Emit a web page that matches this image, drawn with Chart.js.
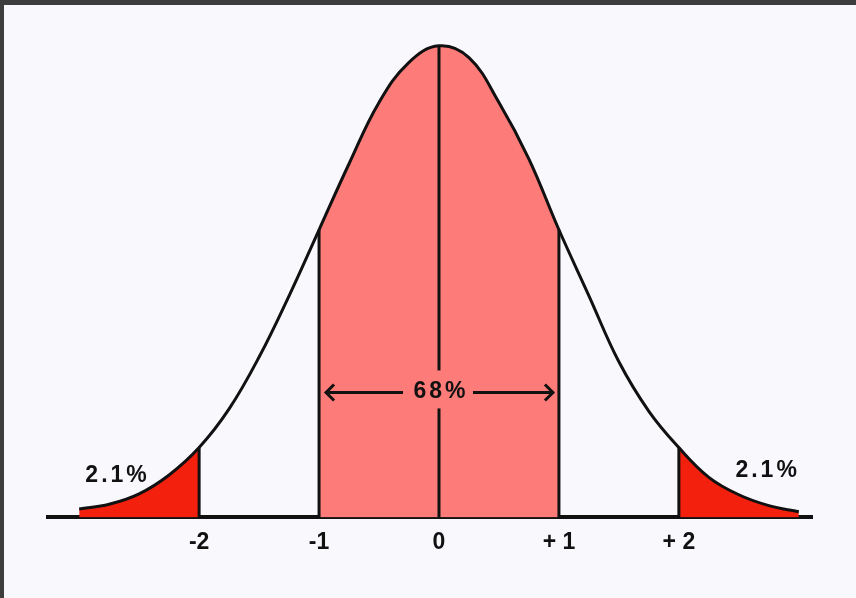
<!DOCTYPE html>
<html>
<head>
<meta charset="utf-8">
<script src="https://cdn.jsdelivr.net/npm/chart.js@4/dist/chart.umd.min.js"></script>
<style>
  html, body { margin: 0; padding: 0; background: #3d3d3d; }
  #wrap { position: absolute; left: 4px; top: 5px; width: 852px; height: 593px; background: #f9f8fd; }
</style>
</head>
<body>
<div id="wrap"><canvas id="bellChart"></canvas></div>
<script>
// positions in standard deviations, curve height in % of the peak
const sigmaX = [-3, -2.75, -2.5, -2.25, -2, -1.75, -1.5, -1.25, -1, -0.75, -0.5, -0.25, 0,
                0.25, 0.5, 0.75, 1, 1.25, 1.5, 1.75, 2, 2.25, 2.5, 2.75, 3];
const curveY = [1.8, 2.8, 5.0, 9.0, 14.8, 23, 34, 47, 61, 75, 88, 96.5, 100,
                97.5, 88, 76, 61, 47, 33, 22.5, 14.8, 8.5, 4.8, 2.5, 1.2];
const tickValues = [-2, -1, 0, 1, 2];
const tickLabels = ['-2', '-1', '0', '+ 1', '+ 2'];
const centerLabel = '68%';
const tailLabel = '2.1%';

const centerFill = '#fd7b78';
const tailFill = '#f3200e';
const ink = '#111111';
const labelFont = 'bold 23px "Liberation Sans", Arial, sans-serif';

const curvePts = sigmaX.map((x, i) => ({ x: x, y: curveY[i] }));
const between = (a, b) => curvePts.filter(p => p.x >= a && p.x <= b);
const heightAt = x => curveY[sigmaX.indexOf(x)];

const areaSet = (pts, color) => ({
  data: pts,
  fill: 'origin',
  backgroundColor: color,
  borderWidth: 0,
  pointRadius: 0,
  tension: 0.4
});

const verticals = tickValues.map(x => ({
  data: [{ x: x, y: 0 }, { x: x, y: heightAt(x) }],
  borderColor: ink,
  borderWidth: 3,
  pointRadius: 0,
  fill: false
}));

// arrows, 68% label and the tail labels
const annotate = {
  id: 'annotate',
  afterDatasetsDraw(chart) {
    const { ctx, scales: { x, y } } = chart;
    const cx = x.getPixelForValue(0);
    const ay = y.getPixelForValue(26.5);
    const lx = x.getPixelForValue(-1) + 6;
    const rx = x.getPixelForValue(1) - 5;
    ctx.save();
    ctx.fillStyle = centerFill;
    ctx.fillRect(cx - 35, ay - 22, 70, 38);

    ctx.strokeStyle = ink;
    ctx.lineWidth = 3;
    ctx.beginPath();
    ctx.moveTo(lx, ay); ctx.lineTo(cx - 36, ay);
    ctx.moveTo(cx + 34, ay); ctx.lineTo(rx, ay);
    ctx.moveTo(lx + 9, ay - 8); ctx.lineTo(lx + 1, ay); ctx.lineTo(lx + 9, ay + 8);
    ctx.moveTo(rx - 9, ay - 8); ctx.lineTo(rx - 1, ay); ctx.lineTo(rx - 9, ay + 8);
    ctx.stroke();

    ctx.fillStyle = ink;
    ctx.font = labelFont;
    ctx.letterSpacing = '3px';
    ctx.textAlign = 'center';
    ctx.textBaseline = 'middle';
    ctx.fillText(centerLabel, cx + 2, ay - 1);
    ctx.fillText(tailLabel, x.getPixelForValue(-2.68), y.getPixelForValue(8.9));
    ctx.fillText(tailLabel, x.getPixelForValue(2.74), y.getPixelForValue(10));
    ctx.restore();
  }
};

new Chart(document.getElementById('bellChart'), {
  type: 'line',
  data: {
    datasets: [
      {
        data: curvePts,
        borderColor: ink,
        borderWidth: 3,
        pointRadius: 0,
        fill: false,
        tension: 0.4
      },
      ...verticals,
      areaSet(between(-1, 1), centerFill),
      areaSet(between(-3, -2), tailFill),
      areaSet(between(2, 3), tailFill)
    ]
  },
  options: {
    responsive: true,
    maintainAspectRatio: false,
    animation: false,
    clip: false,
    layout: { padding: { left: 44, right: 44, top: 22, bottom: 31 } },
    plugins: {
      legend: { display: false },
      tooltip: { enabled: false }
    },
    scales: {
      x: {
        type: 'linear',
        min: -3.26,
        max: 3.11,
        grid: { display: false, drawTicks: false },
        border: { display: true, color: ink, width: 4 },
        afterBuildTicks: axis => { axis.ticks = tickValues.map(v => ({ value: v })); },
        ticks: {
          autoSkip: false,
          maxRotation: 0,
          padding: 11,
          color: ink,
          font: { family: '"Liberation Sans", Arial, sans-serif', size: 23, weight: 'bold' },
          callback: v => tickLabels[tickValues.indexOf(v)]
        }
      },
      y: {
        display: false,
        min: 0,
        max: 104
      }
    }
  },
  plugins: [annotate]
});
</script>
</body>
</html>
